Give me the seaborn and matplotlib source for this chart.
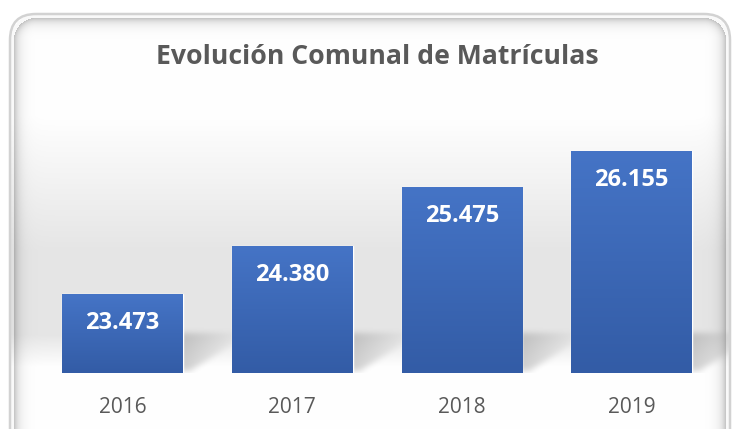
import numpy as np
import pandas as pd
import seaborn as sns
import matplotlib.pyplot as plt
from matplotlib.patches import FancyBboxPatch

years = ['2016', '2017', '2018', '2019']
matriculas = [23473, 24380, 25475, 26155]
etiquetas = ['23.473', '24.380', '25.475', '26.155']

df = pd.DataFrame({'Año': years, 'Matrículas': matriculas})

sns.set_theme(style='white')
plt.rcParams['font.family'] = ['Open Sans', 'DejaVu Sans']

W, H = 738, 429
fig = plt.figure(figsize=(W / 100, H / 100), dpi=100)
fig.patch.set_facecolor('white')

bg = fig.add_axes([0, 0, 1, 1], zorder=0)
bg.axis('off')

ax = fig.add_axes([0.051, 0.1305, 0.92, 0.561], zorder=2)
ax.patch.set_alpha(0)
sns.barplot(data=df, x='Año', y='Matrículas', color='#4472C4', width=0.71,
            saturation=1, ax=ax, zorder=3)
ax.set_ylim(22000, 26500)
ax.set_xlim(-0.5, 3.5)
ax.set_xlabel('')
ax.set_ylabel('')
ax.set_yticks([])
for s in ax.spines.values():
    s.set_visible(False)
ax.tick_params(axis='x', length=0, pad=17, labelsize=15, labelcolor='#595959')

# ---- background card: gradient, bevel and bar shadows (pixel space) ----
fig.canvas.draw()
cx0, cy0, cx1, cy1, rad = 10, 14, 730, 470, 26
yy, xx = np.mgrid[0:H, 0:W] + 0.5
qx = np.abs(xx - (cx0 + cx1) / 2) - ((cx1 - cx0) / 2 - rad)
qy = np.abs(yy - (cy0 + cy1) / 2) - ((cy1 - cy0) / 2 - rad)
sd = np.hypot(np.maximum(qx, 0), np.maximum(qy, 0)) + np.minimum(np.maximum(qx, qy), 0) - rad
inside = sd < 0
d = -sd

base_y = H - ax.transData.transform((0, ax.get_ylim()[0]))[1]
vals = np.interp(yy, [0, 115, 250, base_y - 38, base_y - 6, H], [1, 1, 0.90, 0.90, 1, 1])
bevel = np.where(d > 4, 0.24 * np.exp(-(d - 4) / 5.0), 0.0)
bevel += np.where((d > 0.5) & (d <= 4), 0.02, 0)
vals = vals * (1 - bevel)

# soft floor shadow to the right of every bar
alpha = np.zeros((H, W))
for p in ax.patches:
    xr = ax.transData.transform((p.get_x() + p.get_width(), 0))[0]
    dx = xx - xr
    dy = base_y - yy
    m = (dx > -3) & (dy > 2) & (dy < 40) & (dx < 1.6 * dy + 4)
    alpha = np.maximum(alpha, np.where(m, 0.42 * np.clip(1 - dx / 60, 0, 1), 0))
k = np.ones(7) / 7
for _ in range(2):
    alpha = np.apply_along_axis(lambda r: np.convolve(r, k, mode='same'), 1, alpha)
    alpha = np.apply_along_axis(lambda c: np.convolve(c, k, mode='same'), 0, alpha)
alpha[int(base_y):, :] = 0
vals = vals * (1 - alpha) + 0.55 * alpha
vals = np.where(inside, vals, 1.0)
rgb = np.repeat(vals[..., None], 3, axis=2)
bg.imshow(rgb, extent=(0, W, H, 0), aspect='auto', interpolation='nearest', zorder=0)
bg.add_patch(FancyBboxPatch((cx0, cy0), cx1 - cx0, cy1 - cy0,
                            boxstyle=f'round,pad=0,rounding_size={rad}',
                            facecolor='none', edgecolor='#d2d2d2', linewidth=1.8, zorder=2))
bg.set_xlim(0, W)
bg.set_ylim(H, 0)
bg.axis('off')

# gradient fill for bars
top = np.array([0x45, 0x74, 0xC6]) / 255
bot = np.array([0x33, 0x5C, 0xA6]) / 255
t = np.linspace(0, 1, 100)[:, None]
grad = (top * (1 - t) + bot * t)[:, None, :]
for p, lab in zip(ax.patches, etiquetas):
    x0, w, h = p.get_x(), p.get_width(), p.get_height()
    im = ax.imshow(grad, extent=(x0, x0 + w, 22000, h), aspect='auto', zorder=4)
    im.set_clip_path(p)
    ax.annotate(lab, xy=(x0 + w / 2, h), xytext=(0, -21), textcoords='offset points',
                ha='center', va='center', color='white', fontsize=17,
                fontweight='bold', zorder=5)
ax.set_xlim(-0.5, 3.5)
ax.set_ylim(22000, 26500)

fig.text(0.511, 0.866, 'Evolución Comunal de Matrículas', ha='center', va='center',
         fontsize=19.2, fontweight='bold', color='#595959', zorder=3)

fig.savefig('out.png', dpi=100)
